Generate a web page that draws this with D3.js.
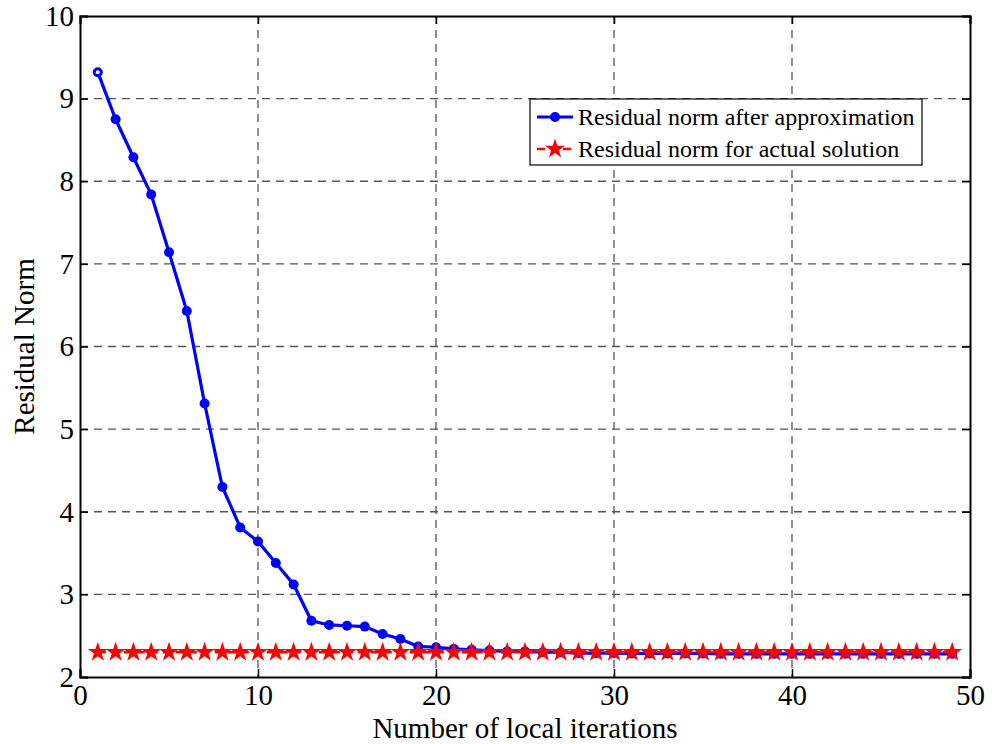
<!DOCTYPE html>
<html><head><meta charset="utf-8">
<script src="https://cdn.jsdelivr.net/npm/d3@7/dist/d3.min.js"></script>
<style>body{margin:0;background:#fff}svg{display:block}text{font-family:"Liberation Serif","Times New Roman",serif;fill:#000}</style>
</head><body><svg id="c" width="992" height="744"></svg>
<script>
const iterations = d3.range(1, 50);
const approxNorm = [9.32,8.75,8.29,7.84,7.14,6.43,5.31,4.30,3.81,3.64,3.38,3.12,2.68,2.63,2.62,2.61,2.52,2.46,2.37,2.36,2.34,2.33,2.32,2.31,2.31,2.30,2.30,2.29,2.29,2.29,2.285,2.285,2.285,2.285,2.285,2.28,2.28,2.28,2.28,2.28,2.28,2.28,2.28,2.28,2.28,2.28,2.28,2.28,2.28];
const actualNorm = iterations.map(() => 2.30);
const xTicks = [0,10,20,30,40,50];
const yTicks = [2,3,4,5,6,7,8,9,10];
const seriesNames = ["Residual norm after approximation","Residual norm for actual solution"];

const svg = d3.select("#c");
const L=80,R=970,T=16,B=677;
const x = d3.scaleLinear().domain([0,50]).range([L,R]);
const y = d3.scaleLinear().domain([2,10]).range([B,T]);

// grid
const g = svg.append("g");
g.selectAll(".gx").data(xTicks.slice(1,-1)).enter().append("line")
 .attr("x1",d=>x(d)).attr("x2",d=>x(d)).attr("y1",T).attr("y2",B)
 .attr("stroke","#555").attr("stroke-width",1.3).attr("stroke-dasharray","8,6");
g.selectAll(".gy").data(yTicks.slice(1,-1)).enter().append("line")
 .attr("y1",d=>y(d)).attr("y2",d=>y(d)).attr("x1",L).attr("x2",R)
 .attr("stroke","#555").attr("stroke-width",1.3).attr("stroke-dasharray","8,6");

// axes
const ax = svg.append("g").attr("transform",`translate(0,${B})`).call(d3.axisBottom(x).tickValues(xTicks).tickSize(-8).tickPadding(7).tickFormat(d3.format("d")));
const ay = svg.append("g").attr("transform",`translate(${L},0)`).call(d3.axisLeft(y).tickValues(yTicks).tickSize(-8).tickPadding(6).tickFormat(d3.format("d")));
svg.append("g").attr("transform",`translate(0,${T})`).call(d3.axisTop(x).tickValues(xTicks).tickSize(-8).tickFormat(""));
svg.append("g").attr("transform",`translate(${R},0)`).call(d3.axisRight(y).tickValues(yTicks).tickSize(-8).tickFormat(""));
svg.selectAll(".domain").attr("stroke","#000").attr("stroke-width",2);
svg.selectAll(".tick line").attr("stroke","#000").attr("stroke-width",1.5);
svg.selectAll(".tick text").attr("font-size",29).attr("font-family","Liberation Serif").attr("fill","#000");
ax.selectAll(".tick text").attr("dy","0.71em");

// blue line
const line = d3.line().x((d,i)=>x(iterations[i])).y(d=>y(d));
svg.append("path").datum(approxNorm).attr("d",line).attr("fill","none").attr("stroke","#0000ff").attr("stroke-width",3.2);
svg.selectAll(".bm").data(approxNorm).enter().append("circle")
 .attr("cx",(d,i)=>x(iterations[i])).attr("cy",d=>y(d)).attr("r",5).attr("fill","#0000ff");
svg.append("circle").attr("cx",x(iterations[0])).attr("cy",y(approxNorm[0])).attr("r",2).attr("fill","#fff");

// red line
svg.append("path").datum(actualNorm).attr("d",line).attr("fill","none").attr("stroke","#ff0000").attr("stroke-width",2.5).attr("stroke-dasharray","8,5");
const star = d3.symbol().type(d3.symbolStar).size(125);
svg.selectAll(".rm").data(actualNorm).enter().append("path")
 .attr("d",star).attr("transform",(d,i)=>`translate(${x(iterations[i])},${y(d)})`).attr("fill","#ff0000");

// legend
const lg = svg.append("g");
lg.append("rect").attr("x",530).attr("y",99).attr("width",392).attr("height",66).attr("fill","#fff").attr("stroke","#000").attr("stroke-width",1.2);
const rows=[117,149];
lg.append("line").attr("x1",537).attr("x2",573).attr("y1",rows[0]).attr("y2",rows[0]).attr("stroke","#0000ff").attr("stroke-width",3);
lg.append("circle").attr("cx",555).attr("cy",rows[0]).attr("r",5).attr("fill","#0000ff");
lg.append("line").attr("x1",537).attr("x2",573).attr("y1",rows[1]).attr("y2",rows[1]).attr("stroke","#ff0000").attr("stroke-width",2.5).attr("stroke-dasharray","8,5");
lg.append("path").attr("d",star).attr("transform",`translate(555,${rows[1]})`).attr("fill","#ff0000");
seriesNames.forEach((s,i)=>lg.append("text").attr("x",578).attr("y",rows[i]).attr("dy","0.35em").attr("font-size",24).text(s));

// labels
svg.append("text").attr("x",(L+R)/2).attr("y",738).attr("text-anchor","middle").attr("font-size",29).text("Number of local iterations");
svg.append("text").attr("transform",`translate(34,${(T+B)/2}) rotate(-90)`).attr("text-anchor","middle").attr("font-size",29).text("Residual Norm");
</script></body></html>
